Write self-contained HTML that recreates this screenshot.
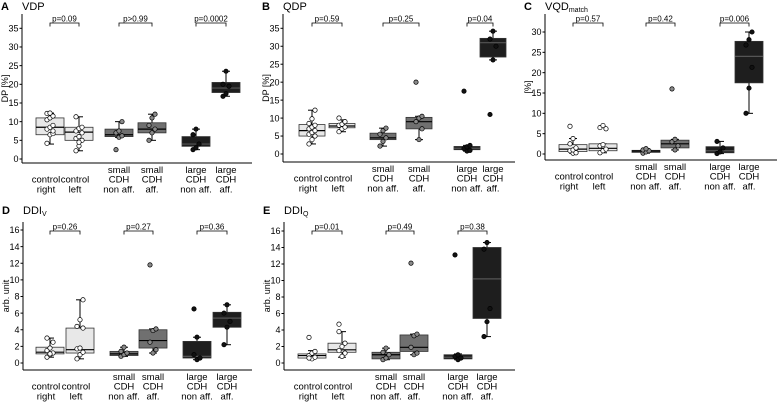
<!DOCTYPE html>
<html><head><meta charset="utf-8"><style>
html,body{margin:0;padding:0;background:#fff}
svg{display:block;font-family:"Liberation Sans",Arial,sans-serif}
</style></head><body>
<svg id="fig" width="777" height="402" viewBox="0 0 777 402"></svg>
<script>
// ---- data ----
const groupLabels = [["","control","right"],["","control","left"],["small","CDH","non aff."],["small","CDH","aff."],["large","CDH","non aff."],["large","CDH","aff."]];
const A_stats = [[4,6.5,8.5,11,12.3],[2.2,5,7.2,8.5,11.3],[5.8,6,6.5,8,10],[5,7,8,9.7,12],[2.5,3.4,4,6,8],[16.8,17.8,19,20.5,23.5]];
const A_points = [[4.2,6.5,6.8,8,8.5,9,10.5,11,11.5,12.2,12.3,7.5],[2.2,3.5,5,5.5,6,7,7.5,8.2,8.5,11.3,4.5],[2.5,5.8,6.2,7,7.5,10],[5,7,8,9,11,12],[2.5,3,4,6.5,8],[16.8,17.5,19.5,20,23.5]];
const A_p = ["p=0.09","p>0.99","p=0.0002"];
const A_ticks = [0,5,10,15,20,25,30,35];
const B_stats = [[2.8,5,6.5,8.2,12.2],[6.2,7.3,7.8,8.5,9.5],[2.2,4,4.5,5.8,7.2],[4,7,9,10.2,10.5],[0.8,1.2,1.6,2.1,2.4],[26.2,27,31,32.2,34.2]];
const B_points = [[2.8,4,5,5.5,6,6.5,7,7.5,8,8.5,9.8,12.2],[6.2,7,7.5,8,8.3,9,10],[2.2,3.5,4.5,5.5,6.5,7.2],[20,4,7,9,10,10.5],[17.5,0.8,1,1.5,2,2.4],[11,26.2,30,32,34.2]];
const B_p = ["p=0.59","p=0.25","p=0.04"];
const B_ticks = [0,5,10,15,20,25,30,35];
const C_stats = [[0.2,0.6,1.2,2.3,3.8],[0.3,0.8,1.4,2.5,2.5],[0.2,0.4,0.7,0.9,1.3],[1,1.5,2.5,3.4,3.6],[0.1,0.3,0.8,1.8,3.1],[10,17.5,24,27.7,30]];
const C_points = [[6.8,0.2,0.4,0.8,1,1.5,2.5,3.8,0.3],[6.5,7,6.2,0.3,0.8,1.2,2,2.3],[0.2,0.5,0.8,1,1.3],[16,1,2,3,3.6],[0.1,0.5,1.5,3.1],[10,16.2,21.3,26.8,28.1,30]];
const C_p = ["p=0.57","p=0.42","p=0.006"];
const C_ticks = [0,5,10,15,20,25,30];
const D_stats = [[0.7,1.1,1.3,1.9,3],[0.5,1.2,1.6,4.2,7.6],[0.8,0.9,1.1,1.4,1.9],[1.2,1.8,2.7,4,4.1],[0.4,0.6,0.8,2.6,3.1],[2.2,4.3,5.4,6.1,7]];
const D_points = [[0.7,1,1.2,1.5,1.8,2.5,3,1.1],[0.5,1,1.3,1.7,1.8,4.2,4.4,5.2,7.6],[0.8,1,1.2,1.4,1.9],[11.8,1.2,1.6,2.5,3.9,4.1],[6.5,0.4,0.6,1,3.1],[2.2,4.3,5,6,7]];
const D_p = ["p=0.26","p=0.27","p=0.36"];
const D_ticks = [0,2,4,6,8,10,12,14,16];
const E_stats = [[0.5,0.6,0.9,1.1,1.5],[0.7,1.3,1.6,2.4,3.8],[0.4,0.5,1,1.3,1.8],[1,1.4,1.9,3.4,3.5],[0.4,0.5,0.7,1,1.1],[3.2,5.4,10.2,14,14.6]];
const E_points = [[3.1,0.5,0.7,0.9,1.2,1.4,0.6],[4.7,0.8,1.2,1.5,2,2.4,3.8],[0.4,0.6,1,1.3,1.8],[12.1,1,1.2,1.9,3.3,3.5],[13.1,0.4,0.6,0.8,1],[3.2,5,6.6,13.8,14.6]];
const E_p = ["p=0.01","p=0.49","p=0.38"];
const E_ticks = [0,2,4,6,8,10,12,14,16];

const NS="http://www.w3.org/2000/svg";
const svg=document.getElementById('fig');
function mk(tag,attrs,parent){const e=document.createElementNS(NS,tag);for(const k in attrs)e.setAttribute(k,attrs[k]);(parent||svg).appendChild(e);return e;}
const fills=["#e8e8e8","#e8e8e8","#707070","#707070","#1e1e1e","#1e1e1e"];
const ptFill=["#fff","#fff","#8a8a8a","#8a8a8a","#111","#111"];

function panel(cfg){
  const g=mk('g',{});
  
  
  const y=v=>cfg.y0+(cfg.yTop-cfg.y0)*(v-0)/(cfg.vTop-0);
  let t=mk('text',{x:cfg.ax-21,y:cfg.titleY,'font-size':11,'font-weight':'bold'},g);t.textContent=cfg.letter;
  
  t=mk('text',{x:cfg.ax,y:cfg.titleY,'font-size':11},g);
  t.innerHTML=cfg.title;
  
  mk('line',{x1:cfg.ax,y1:cfg.axTop,x2:cfg.ax,y2:cfg.axBot,stroke:'#000','stroke-width':1},g);
  mk('line',{x1:cfg.ax,y1:cfg.axBot,x2:cfg.axRight,y2:cfg.axBot,stroke:'#000','stroke-width':1},g);
  cfg.ticks.forEach(v=>{
    const yy=y(v);
    mk('line',{x1:cfg.ax-2.5,y1:yy,x2:cfg.ax,y2:yy,stroke:'#000'},g);
    const tt=mk('text',{x:cfg.ax-3.5,y:yy+3.2,'font-size':9,'text-anchor':'end'},g);
    tt.textContent=v;
    
  });
  const yl=mk('text',{x:0,y:0,'font-size':9,'text-anchor':'middle',transform:`translate(${cfg.ax-14},${(cfg.axTop+cfg.axBot)/2}) rotate(-90)`},g);
  yl.textContent=cfg.ylab;
  
  cfg.centers.forEach((cx,i)=>{
    const s=cfg.stats[i],w=cfg.bw;
    mk('line',{x1:cx,y1:y(s[0]),x2:cx,y2:y(s[1]),stroke:'#000'},g);
    mk('line',{x1:cx,y1:y(s[3]),x2:cx,y2:y(s[4]),stroke:'#000'},g);
    mk('line',{x1:cx-4,y1:y(s[0]),x2:cx+4,y2:y(s[0]),stroke:'#000'},g);
    mk('line',{x1:cx-4,y1:y(s[4]),x2:cx+4,y2:y(s[4]),stroke:'#000'},g);
    const r=mk('rect',{x:cx-w/2,y:y(s[3]),width:w,height:Math.max(1,y(s[1])-y(s[3])),fill:fills[i],stroke:'#333','stroke-width':0.8},g);
    
    mk('line',{x1:cx-w/2,y1:y(s[2]),x2:cx+w/2,y2:y(s[2]),stroke:i>=4?'#555':'#000','stroke-width':1.2},g);
    cfg.points[i].forEach((v,j)=>{
      const c=mk('circle',{cx:cx+((j%3)-1)*3,cy:y(v),r:2.2,fill:ptFill[i],stroke:'#000','stroke-width':0.7},g);
      
    });
    const lx = i===0 ? cx-4 : (i===1 ? cx-4 : cx);
    groupLabels[i].forEach((ln,k)=>{
      if(!ln)return;
      const lt=mk('text',{x:lx,y:cfg.axBot+10+k*9.7,'font-size':9.5,'text-anchor':'middle'},g);
      lt.textContent=ln;
      
    });
  });
  for(let k=0;k<3;k++){
    const x1=cfg.centers[2*k],x2=cfg.centers[2*k+1],by=cfg.axTop+9;
    mk('path',{d:`M${x1},${by+3.5}V${by}H${x2}V${by+3.5}`,fill:'none',stroke:'#000','stroke-width':0.8},g);
    const pt=mk('text',{x:(x1+x2)/2,y:by-1.5,'font-size':8,'text-anchor':'middle'},g);
    pt.textContent=cfg.p[k];
    
  }
}
panel({letter:'A',title:'VDP',titleY:10,ax:22,axTop:14,axBot:163,axRight:252,y0:159,yTop:28.3,vTop:35,ticks:A_ticks,ylab:'DP [%]',centers:[50,79,119,152,196,226],bw:28,stats:A_stats,points:A_points,p:A_p});
panel({letter:'B',title:'QDP',titleY:10,ax:283,axTop:14,axBot:162,axRight:515,y0:154,yTop:28.3,vTop:35,ticks:B_ticks,ylab:'DP [%]',centers:[312,342,383,419,467,493],bw:26,stats:B_stats,points:B_points,p:B_p});
panel({letter:'C',title:'VQD<tspan font-size="7" dy="2">match</tspan>',titleY:10,ax:545,axTop:14,axBot:160,axRight:777,y0:154,yTop:32,vTop:30,ticks:C_ticks,ylab:'[%]',centers:[573,603,646,675,720,749],bw:28,stats:C_stats,points:C_points,p:C_p});
panel({letter:'D',title:'DDI<tspan font-size="7" dy="2">V</tspan>',titleY:214,ax:23,axTop:222,axBot:370,axRight:252,y0:363,yTop:230,vTop:16,ticks:D_ticks,ylab:'arb. unit',centers:[50,80,124,153,197,227],bw:28,stats:D_stats,points:D_points,p:D_p});
panel({letter:'E',title:'DDI<tspan font-size="7" dy="2">Q</tspan>',titleY:214,ax:284,axTop:222,axBot:370,axRight:515,y0:363,yTop:231,vTop:16,ticks:E_ticks,ylab:'arb. unit',centers:[312,342,386,414,458,487],bw:28,stats:E_stats,points:E_points,p:E_p});
</script>
</body></html>
